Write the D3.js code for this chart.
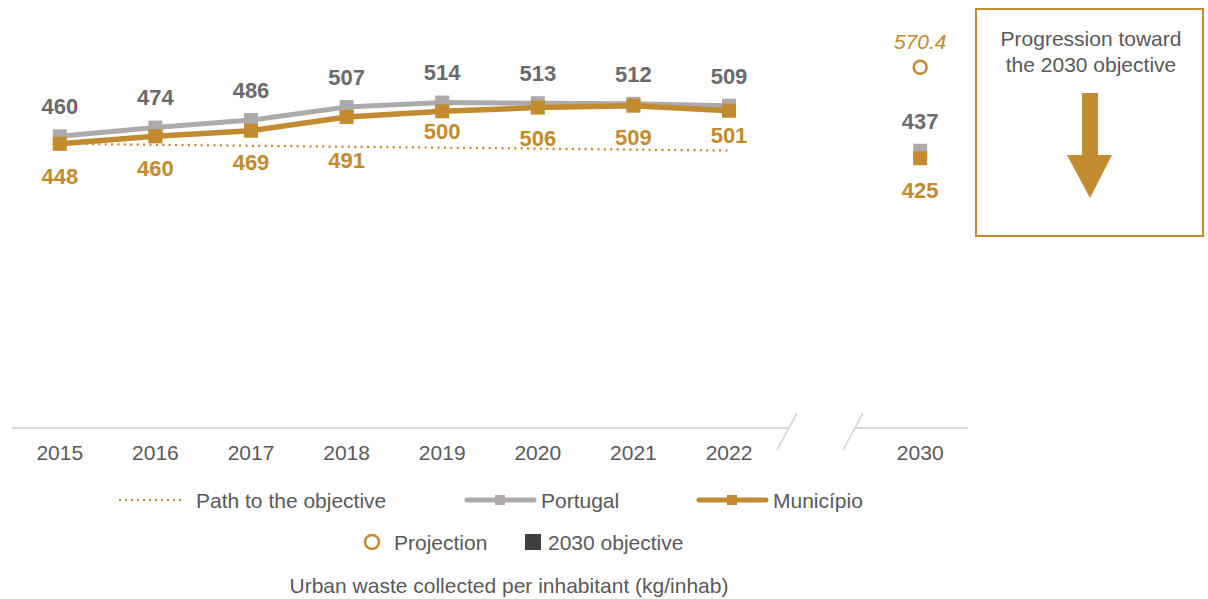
<!DOCTYPE html>
<html>
<head>
<meta charset="utf-8">
<script src="https://cdn.jsdelivr.net/npm/d3@7"></script>
<style>
  body { margin: 0; background: #fff; }
  svg { display: block; font-family: "Liberation Sans", Arial, sans-serif; }
</style>
</head>
<body>
<svg id="chart" width="1208" height="599"></svg>
<script>
// data
const years = ['2015', '2016', '2017', '2018', '2019', '2020', '2021', '2022'];
const portugal = [460, 474, 486, 507, 514, 513, 512, 509];
const municipio = [448, 460, 469, 491, 500, 506, 509, 501];
const pathToObjective = [448, 446.5, 444.9, 443.4, 441.9, 440.3, 438.8, 437.3];
const objectiveYear = '2030';
const objectivePortugal = 437;
const objectiveMunicipio = 425;
const projection2030 = 570.4;

const gold = '#c28b30';
const grey = '#aeaaaa';
const greyText = '#6c6a6a';
const textColor = '#595959';

const svg = d3.select('#chart');
const axisY = 428;

const x = d3.scaleBand()
  .domain([...years, 'gap', objectiveYear])
  .range([12, 968]);
const cx = d => x(d) + x.bandwidth() / 2;

const y = d3.scaleLinear().domain([0, 678]).range([424, 0]);

// axis (labels only, line drawn by hand for the break)
const axis = svg.append('g')
  .attr('transform', `translate(0,${axisY})`)
  .call(d3.axisBottom(x).tickSize(0).tickPadding(17)
    .tickFormat(d => d === 'gap' ? '' : d));
axis.select('.domain').remove();
axis.selectAll('text')
  .attr('font-size', 21)
  .attr('font-family', '"Liberation Sans", Arial, sans-serif')
  .attr('fill', textColor);

svg.append('line').attr('x1', 12).attr('x2', 788).attr('y1', axisY).attr('y2', axisY)
  .attr('stroke', '#d9d9d9').attr('stroke-width', 2);
svg.append('line').attr('x1', 855).attr('x2', 968).attr('y1', axisY).attr('y2', axisY)
  .attr('stroke', '#d9d9d9').attr('stroke-width', 2);
[[797, 777], [863, 843]].forEach(([a, b]) => {
  svg.append('line').attr('x1', a).attr('y1', 413).attr('x2', b).attr('y2', 450)
    .attr('stroke', '#cfcfcf').attr('stroke-width', 1.5);
});

const line = d3.line().x(d => cx(d.year)).y(d => y(d.v));
const rows = arr => arr.map((v, i) => ({ year: years[i], v }));

// Portugal
svg.append('path').datum(rows(portugal)).attr('d', line)
  .attr('fill', 'none').attr('stroke', grey).attr('stroke-width', 5);
svg.selectAll('.pm').data(rows(portugal)).enter().append('rect')
  .attr('x', d => cx(d.year) - 7).attr('y', d => y(d.v) - 7)
  .attr('width', 14).attr('height', 14).attr('fill', grey);

// path to objective
svg.append('path').datum(rows(pathToObjective)).attr('d', line)
  .attr('fill', 'none').attr('stroke', gold).attr('stroke-width', 2.2)
  .attr('stroke-dasharray', '2.2 4.2');

// Municipio
svg.append('path').datum(rows(municipio)).attr('d', line)
  .attr('fill', 'none').attr('stroke', gold).attr('stroke-width', 5.5);
svg.selectAll('.mm').data(rows(municipio)).enter().append('rect')
  .attr('x', d => cx(d.year) - 7).attr('y', d => y(d.v) - 7)
  .attr('width', 14).attr('height', 14).attr('fill', gold);

// labels
svg.selectAll('.pl').data(rows(portugal)).enter().append('text')
  .attr('x', d => cx(d.year)).attr('y', d => y(d.v) - 30).attr('dy', '0.36em')
  .attr('text-anchor', 'middle').attr('font-size', 22).attr('font-weight', 'bold')
  .attr('fill', greyText).text(d => d.v);

const munLabelDy = [32, 32, 31, 43, 20, 31, 31, 24];
svg.selectAll('.ml').data(rows(municipio)).enter().append('text')
  .attr('x', d => cx(d.year)).attr('y', (d, i) => y(d.v) + munLabelDy[i]).attr('dy', '0.36em')
  .attr('text-anchor', 'middle').attr('font-size', 22).attr('font-weight', 'bold')
  .attr('fill', gold).text(d => d.v);

// 2030 objective + projection
const ox = cx(objectiveYear);
svg.append('rect').attr('x', ox - 7).attr('y', y(objectivePortugal) - 7)
  .attr('width', 14).attr('height', 14).attr('fill', grey);
svg.append('rect').attr('x', ox - 7).attr('y', y(objectiveMunicipio) - 7)
  .attr('width', 14).attr('height', 14).attr('fill', gold);
svg.append('text').attr('x', ox).attr('y', y(objectivePortugal) - 30).attr('dy', '0.36em')
  .attr('text-anchor', 'middle').attr('font-size', 22).attr('font-weight', 'bold')
  .attr('fill', greyText).text(objectivePortugal);
svg.append('text').attr('x', ox).attr('y', y(objectiveMunicipio) + 32).attr('dy', '0.36em')
  .attr('text-anchor', 'middle').attr('font-size', 22).attr('font-weight', 'bold')
  .attr('fill', gold).text(objectiveMunicipio);
svg.append('circle').attr('cx', ox).attr('cy', y(projection2030)).attr('r', 6.5)
  .attr('fill', 'none').attr('stroke', gold).attr('stroke-width', 2.5);
svg.append('text').attr('x', ox).attr('y', y(projection2030) - 26).attr('dy', '0.36em')
  .attr('text-anchor', 'middle').attr('font-size', 21).attr('font-style', 'italic')
  .attr('fill', gold).text(projection2030);

// progression box
svg.append('rect').attr('x', 976).attr('y', 9).attr('width', 227).attr('height', 227)
  .attr('fill', 'none').attr('stroke', gold).attr('stroke-width', 2);
svg.append('text').attr('x', 1091).attr('y', 38).attr('dy', '0.36em')
  .attr('text-anchor', 'middle').attr('font-size', 21).attr('fill', textColor)
  .text('Progression toward');
svg.append('text').attr('x', 1091).attr('y', 64).attr('dy', '0.36em')
  .attr('text-anchor', 'middle').attr('font-size', 21).attr('fill', textColor)
  .text('the 2030 objective');
svg.append('path')
  .attr('d', 'M1082,93 H1098 V155 H1112 L1090,198 L1067,155 H1082 Z')
  .attr('fill', gold);

// legend
const leg = svg.append('g').attr('font-size', 21).attr('fill', textColor);
leg.append('line').attr('x1', 119).attr('x2', 184).attr('y1', 500).attr('y2', 500)
  .attr('stroke', gold).attr('stroke-width', 2).attr('stroke-dasharray', '2 4');
leg.append('text').attr('x', 196).attr('y', 500).attr('dy', '0.36em').text('Path to the objective');

leg.append('line').attr('x1', 467).attr('x2', 534).attr('y1', 500).attr('y2', 500)
  .attr('stroke', grey).attr('stroke-width', 5).attr('stroke-linecap', 'round');
leg.append('rect').attr('x', 495).attr('y', 495).attr('width', 10).attr('height', 10).attr('fill', grey);
leg.append('text').attr('x', 541).attr('y', 500).attr('dy', '0.36em').text('Portugal');

leg.append('line').attr('x1', 699).attr('x2', 766).attr('y1', 500).attr('y2', 500)
  .attr('stroke', gold).attr('stroke-width', 5).attr('stroke-linecap', 'round');
leg.append('rect').attr('x', 727).attr('y', 495).attr('width', 10).attr('height', 10).attr('fill', gold);
leg.append('text').attr('x', 773).attr('y', 500).attr('dy', '0.36em').text('Município');

leg.append('circle').attr('cx', 372).attr('cy', 542).attr('r', 7)
  .attr('fill', 'none').attr('stroke', gold).attr('stroke-width', 2.5);
leg.append('text').attr('x', 394).attr('y', 542).attr('dy', '0.36em').text('Projection');
leg.append('rect').attr('x', 525).attr('y', 534).attr('width', 16).attr('height', 16).attr('fill', '#404040');
leg.append('text').attr('x', 548).attr('y', 542).attr('dy', '0.36em').text('2030 objective');

svg.append('text').attr('x', 509).attr('y', 585).attr('dy', '0.36em')
  .attr('text-anchor', 'middle').attr('font-size', 21).attr('fill', textColor)
  .text('Urban waste collected per inhabitant (kg/inhab)');
</script>
</body>
</html>
